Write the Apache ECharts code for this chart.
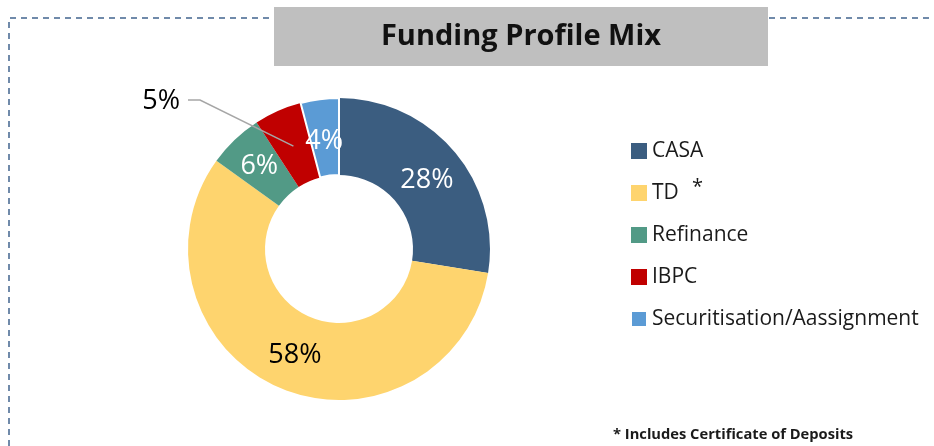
<!DOCTYPE html>
<html>
<head>
<meta charset="utf-8">
<script src="https://cdn.jsdelivr.net/npm/echarts@6/dist/echarts.min.js"></script>
<style>
  html, body { margin: 0; padding: 0; background: #fff; }
  #main { width: 934px; height: 446px; }
</style>
</head>
<body>
<div id="main"></div>
<script>
// funding mix, share of total (%)
var categories = ['CASA', 'TD', 'Refinance', 'IBPC', 'Securitisation/Aassignment'];
var shares = [27.6, 57.5, 5.9, 5.1, 4.1];
var sliceColors = ['#3b5d80', '#fed46e', '#529a86', '#c00000', '#5b9bd5'];
var labelColors = ['#ffffff', '#000000', '#ffffff', '#000000', '#ffffff'];
var labelShiftY = [6, 0, 1, 0, 7];
var titleText = 'Funding Profile Mix';
var footnote = '* Includes Certificate of Deposits';

var pieCenter = [339, 249];
var pieRadius = [74, 151];
// where the outside IBPC label sits (right edge, middle)
var outsideLabelAt = [180, 101];

var chart = echarts.init(document.getElementById('main'), null, { renderer: 'canvas' });

var pieData = categories.map(function (name, i) {
  var item = {
    name: name,
    value: shares[i],
    itemStyle: { color: sliceColors[i] },
    label: { color: labelColors[i] }
  };
  if (i === categories.length - 1) {
    item.itemStyle.borderColor = '#ffffff';
    item.itemStyle.borderWidth = 2;
  }
  return item;
});

// leader line of the outside label starts from the middle of its slice
function midSlicePoint(idx) {
  var total = 0, before = 0;
  for (var i = 0; i < shares.length; i++) {
    total += shares[i];
    if (i < idx) before += shares[i];
  }
  var ang = (before + shares[idx] / 2) / total * Math.PI * 2;
  var r = (pieRadius[0] + pieRadius[1]) / 2;
  return [pieCenter[0] + r * Math.sin(ang), pieCenter[1] - r * Math.cos(ang)];
}

var ibpcIdx = categories.indexOf('IBPC');
var borderColor = '#41648e';

var option = {
  animation: false,
  backgroundColor: '#ffffff',
  graphic: [
    { // dashed frame
      type: 'polyline',
      silent: true,
      shape: { points: [[9, 446], [9, 18], [934, 18]] },
      style: { stroke: borderColor, lineWidth: 1.5, lineDash: [6, 5], fill: null }
    },
    {
      type: 'rect',
      silent: true,
      shape: { x: 274, y: 7, width: 494, height: 59 },
      style: { fill: '#bfbfbf' }
    },
    { // leader line for the 5% label
      type: 'polyline',
      silent: true,
      z: 100,
      shape: {
        points: [
          [outsideLabelAt[0] + 8, outsideLabelAt[1] - 1],
          [outsideLabelAt[0] + 20, outsideLabelAt[1] - 1],
          midSlicePoint(ibpcIdx)
        ]
      },
      style: { stroke: '#a6a6a6', lineWidth: 1.5, fill: null }
    },
    { // superscript note mark next to TD
      type: 'text',
      silent: true,
      left: 692,
      top: 177,
      style: { text: '*', font: '20px "Open Sans"', fill: '#1a1a1a' }
    },
    {
      type: 'text',
      silent: true,
      left: 613,
      top: 427,
      style: {
        text: footnote,
        font: 'bold 14.7px "Open Sans"',
        fill: '#1a1a1a'
      }
    }
  ],
  title: {
    text: titleText,
    left: 521,
    top: 37,
    textAlign: 'center',
    textVerticalAlign: 'middle',
    padding: 0,
    textStyle: {
      fontFamily: 'Open Sans',
      fontWeight: 'bold',
      fontSize: 29,
      color: '#111111'
    }
  },
  legend: {
    orient: 'vertical',
    left: 630,
    top: 140,
    padding: 0,
    itemWidth: 16,
    itemHeight: 16,
    itemGap: 20,
    icon: 'rect',
    data: categories,
    textStyle: {
      fontFamily: 'Open Sans',
      fontSize: 21,
      lineHeight: 22,
      color: '#1a1a1a'
    }
  },
  series: [{
    type: 'pie',
    center: pieCenter,
    radius: pieRadius,
    startAngle: 90,
    clockwise: true,
    avoidLabelOverlap: false,
    label: {
      show: true,
      position: 'inside',
      fontFamily: 'Open Sans',
      fontSize: 27,
      formatter: function (p) { return Math.round(p.value) + '%'; }
    },
    labelLine: { show: false },
    labelLayout: function (params) {
      if (params.dataIndex === ibpcIdx) {
        return {
          x: outsideLabelAt[0],
          y: outsideLabelAt[1],
          align: 'right',
          verticalAlign: 'middle'
        };
      }
      return { dy: labelShiftY[params.dataIndex] };
    },
    data: pieData
  }]
};

chart.setOption(option);
</script>
</body>
</html>
